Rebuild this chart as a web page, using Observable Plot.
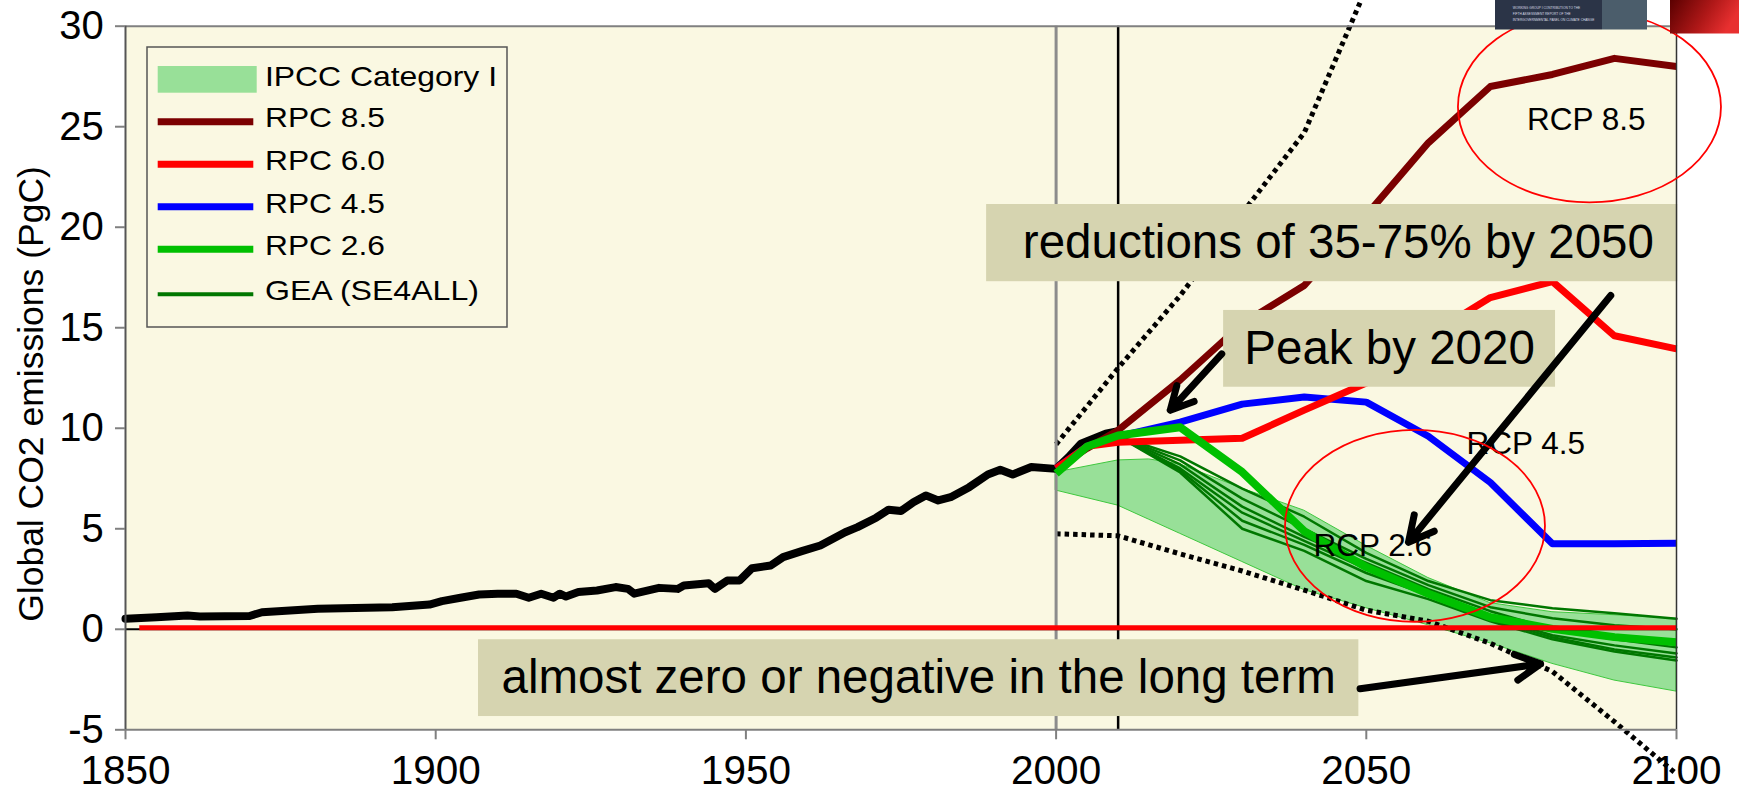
<!DOCTYPE html>
<html><head><meta charset="utf-8">
<script src="https://cdn.jsdelivr.net/npm/d3@7"></script>
<script src="https://cdn.jsdelivr.net/npm/@observablehq/plot@0.6"></script>
<style>
html,body{margin:0;padding:0;background:#fff;}
#chart{position:relative;width:1739px;height:795px;overflow:hidden;}
</style></head><body><div id="chart"></div>
<script>
// ---------- data ----------
const histYears = [1850,1855,1860,1862,1870,1872,1881,1893,1899,1901,1904,1907,1910,1913,1915,1917,1919,1920,1921,1923,1926,1929,1931,1932,1936,1939,1940,1944,1945,1947,1949,1951,1954,1956,1959,1962,1966,1968,1971,1973,1975,1977,1979,1981,1983,1986,1989,1991,1993,1996,2000,2002,2004,2006,2008,2010];
const histValues = [0.52,0.6,0.69,0.64,0.66,0.85,1.02,1.1,1.23,1.4,1.57,1.73,1.77,1.77,1.57,1.77,1.57,1.77,1.63,1.85,1.93,2.1,2.01,1.77,2.06,2.01,2.18,2.29,2.01,2.43,2.43,3.04,3.17,3.59,3.89,4.17,4.83,5.08,5.55,5.95,5.88,6.32,6.66,6.41,6.57,7.07,7.7,7.93,7.7,8.07,7.98,8.56,9.23,9.48,9.73,9.86];

const rcpYears = [2000,2005,2010,2020,2030,2040,2050,2060,2070,2080,2090,2100];
const rcp85 = [8.0,9.0,9.9,12.4,15.2,17.1,20.6,24.2,27.0,27.6,28.4,28.0];
const rcp60 = [8.0,9.1,9.3,9.4,9.5,10.9,12.25,14.6,16.5,17.3,14.6,13.95];
const rcp45 = [8.0,9.1,9.6,10.3,11.2,11.55,11.3,9.6,7.3,4.25,4.25,4.28];
const rcp26 = [7.75,9.09,9.64,10.05,7.82,4.88,3.09,1.77,0.6,0.02,-0.39,-0.64];

const geaYears = [2010,2020,2030,2040,2050,2060,2070,2080,2090,2100];
const gea1 = [9.6,8.6,7.0,5.6,3.8,2.4,1.45,1.05,0.8,0.52];
const gea2 = [9.6,8.4,6.5,5.0,3.5,2.2,1.1,0.55,0.2,0.0];
const gea3 = [9.6,8.2,6.1,4.6,3.3,2.0,0.9,0.0,-0.5,-0.9];
const gea4 = [9.6,8.0,5.8,4.4,3.0,1.8,0.6,-0.3,-0.8,-1.2];
const gea5 = [9.6,7.9,5.4,4.2,2.8,1.7,0.5,-0.4,-1.0,-1.4];
const gea6 = [9.6,7.8,5.0,3.9,2.4,1.5,0.4,-0.5,-1.1,-1.55];

const bandYears = [2000,2010,2015,2020,2030,2040,2050,2060,2070,2080,2090,2100];
const bandUpper = [7.8,8.4,8.45,8.2,7.0,5.9,4.15,2.55,1.3,0.85,0.7,0.52];
const bandLower = [6.9,6.15,5.45,4.75,3.35,1.95,1.05,0.2,-0.7,-1.72,-2.55,-3.1];

const dotUpYears = [2000,2010,2020,2030,2040,2050];
const dotUpValues = [9.2,13.0,16.6,20.7,24.7,31.9];
const dotLoYears = [2000,2010,2020,2030,2040,2050,2060,2070,2080,2090,2100];
const dotLoValues = [4.75,4.65,3.75,2.9,1.95,0.95,0.4,-0.7,-2.1,-4.6,-7.2];

const xTicks = [1850,1900,1950,2000,2050,2100];
const yTicks = [-5,0,5,10,15,20,25,30];
const yTitle = "Global CO2 emissions (PgC)";

const legendLabels = ["IPCC Category I","RPC 8.5","RPC 6.0","RPC 4.5","RPC 2.6","GEA (SE4ALL)"];

const boxTexts = ["reductions of 35-75% by 2050","Peak by 2020","almost zero or negative in the long term"];
const boxX1 = [1988.8,2027.0,1906.9];
const boxX2 = [2100.2,2080.5,2048.8];
const boxY1 = [17.29,12.04,-4.34];
const boxY2 = [21.13,15.86,-0.52];
const boxTextX = [2045.5,2053.75,1977.85];

const arrowX1 = [2026.7,2089.4,2049.0];
const arrowY1 = [13.7,16.6,-2.96];
const arrowX2 = [2018.4,2056.8,2078.1];
const arrowY2 = [10.9,4.33,-1.72];

const rcpLabelTexts = ["RCP 8.5","RCP 4.5","RCP 2.6"];
const rcpLabelX = [2075.9,2066.15,2041.5];
const rcpLabelY = [24.85,8.73,3.67];

const ellipseCx = [2086.05,2057.93];
const ellipseCy = [25.97,5.12];
const ellipseRx = [21.2,20.95];
const ellipseRy = [4.76,4.77];

// ---------- build ----------
const rows = (xs, ys, extra={}) => xs.map((x,i)=>({x, y: ys[i], ...extra}));
const hist = rows(histYears, histValues);
const gea = [gea1,gea2,gea3,gea4,gea5,gea6].flatMap((s,k)=>rows(geaYears, s, {id:k}));
const band = bandYears.map((x,i)=>({x, lo: bandLower[i], hi: bandUpper[i]}));
const boxes = boxTexts.map((t,i)=>({t, tx: boxTextX[i], x1: boxX1[i], x2: boxX2[i], y1: boxY1[i], y2: boxY2[i]}));
const arrows = arrowX1.map((x,i)=>({x1:x, y1:arrowY1[i], x2:arrowX2[i], y2:arrowY2[i]}));
const rcpLabels = rcpLabelTexts.map((t,i)=>({t, x: rcpLabelX[i], y: rcpLabelY[i]}));

const FONT = "'Liberation Sans', Arial, sans-serif";
const C = {bg:"#FAF8E2", box:"#D6D4B0", band:"#98E098", bandStroke:"#3FC83F",
  r85:"#7B0000", r60:"#FF0000", r45:"#0000FF", r26:"#00C000", gea:"#007700"};
const dotted = {stroke:"black", strokeWidth:5, strokeDasharray:"4.5,4", strokeLinecap:"butt", strokeLinejoin:"miter"};

const chart = Plot.plot({
  width: 1739, height: 795,
  marginLeft: 125, marginRight: 63, marginTop: 25.7, marginBottom: 65.7,
  x: {domain: [1850, 2100]},
  y: {domain: [-5, 30]},
  style: {fontFamily: FONT, background: "transparent", overflow: "visible"},
  marks: [
    Plot.frame({fill: C.bg, stroke: "none"}),
    Plot.areaY(band, {x: "x", y1: "lo", y2: "hi", fill: C.band, stroke: C.bandStroke, strokeWidth: 1}),
    Plot.line(rows(dotUpYears, dotUpValues), {x:"x", y:"y", ...dotted}),
    Plot.line(rows(dotLoYears, dotLoValues), {x:"x", y:"y", ...dotted}),
    Plot.ruleX([2000], {stroke:"#8C8C8C", strokeWidth:3}),
    Plot.ruleX([2010], {stroke:"black", strokeWidth:2.5}),
    Plot.line(gea, {x:"x", y:"y", z:"id", stroke:C.gea, strokeWidth:2.5}),
    Plot.line(hist, {x:"x", y:"y", stroke:"black", strokeWidth:8, strokeLinejoin:"round"}),
    Plot.line(rows(rcpYears, rcp85), {x:"x", y:"y", stroke:C.r85, strokeWidth:7, strokeLinecap:"butt"}),
    Plot.line(rows(rcpYears, rcp45), {x:"x", y:"y", stroke:C.r45, strokeWidth:7, strokeLinecap:"butt"}),
    Plot.line(rows(rcpYears, rcp60), {x:"x", y:"y", stroke:C.r60, strokeWidth:7, strokeLinecap:"butt"}),
    Plot.line(rows(rcpYears, rcp26), {x:"x", y:"y", stroke:C.r26, strokeWidth:8, strokeLinecap:"butt"}),
    Plot.ruleY([0], {stroke:"black", strokeWidth:2}),
    Plot.ruleY([0.08], {x1:1852.3, x2:2100, stroke:"#FF0000", strokeWidth:5}),
    Plot.rect(boxes, {x1:"x1", x2:"x2", y1:"y1", y2:"y2", fill:C.box}),
    Plot.text(boxes, {x:"tx", y: d=>(d.y1+d.y2)/2, text:"t", fontSize:47.5, fill:"black", lineAnchor:"middle"}),
    Plot.text(rcpLabels, {x:"x", y:"y", text:"t", textAnchor:"start", lineAnchor:"bottom", fontSize:31.5, fill:"black"}),
    Plot.arrow(arrows, {x1:"x1", y1:"y1", x2:"x2", y2:"y2", stroke:"black", strokeWidth:7, headLength:6, headAngle:55}),
    Plot.ruleY([30], {stroke:"#808080", strokeWidth:2}),
    Plot.ruleY([-5], {stroke:"#808080", strokeWidth:2}),
    Plot.ruleX([1850], {stroke:"#555", strokeWidth:2}),
    Plot.ruleX([2100], {stroke:"#333", strokeWidth:1.5}),
    Plot.axisX({ticks: xTicks, tickFormat: d=>String(d), tickSize:10, tickPadding:15.5, fontSize:40.5, stroke:"#808080", strokeWidth:2, fill:"black", label:null}),
    Plot.axisY({ticks: yTicks, tickFormat: d=>String(d), tickSize:10, tickPadding:11.7, fontSize:40, stroke:"#808080", strokeWidth:2, fill:"black", label:null})
  ]
});
document.getElementById("chart").appendChild(chart);

const svg = d3.select(chart);
const sxo = chart.scale("x"), syo = chart.scale("y");
const lx = d3.scaleLinear(sxo.domain, sxo.range), ly = d3.scaleLinear(syo.domain, syo.range);
const px = v => lx(v), py = v => ly(v);

// ellipses
const eg = svg.append("g");
ellipseCx.forEach((cx,i)=>{
  eg.append("ellipse")
    .attr("cx", px(cx)).attr("cy", py(ellipseCy[i]))
    .attr("rx", Math.abs(px(cx+ellipseRx[i]) - px(cx)))
    .attr("ry", Math.abs(py(ellipseCy[i]+ellipseRy[i]) - py(ellipseCy[i])))
    .attr("fill","none").attr("stroke","#FF0000").attr("stroke-width",1.8);
});

// y title
svg.append("text").attr("transform","translate(31,394) rotate(-90)")
  .attr("text-anchor","middle").attr("dy","0.35em")
  .attr("font-family",FONT).attr("font-size",35.5).attr("fill","black").text(yTitle);

// legend
const lg = svg.append("g").attr("font-family",FONT).attr("text-anchor","start");
lg.append("rect").attr("x",147).attr("y",47).attr("width",360).attr("height",280)
  .attr("fill",C.bg).attr("stroke","#555").attr("stroke-width",1.5);
lg.append("rect").attr("x",157.7).attr("y",66).attr("width",99).attr("height",26.7).attr("fill",C.band);
const legColors = [C.r85,C.r60,C.r45,C.r26,C.gea];
const legLineY = [121.7,164.3,206.7,249.3,294.3];
const legLineW = [7,7,7,7,4];
legColors.forEach((c,i)=>{
  lg.append("line").attr("x1",157.7).attr("x2",253.3).attr("y1",legLineY[i]).attr("y2",legLineY[i])
    .attr("stroke",c).attr("stroke-width",legLineW[i]);
});
const legBase = [85.7,127.3,170,213.3,255,300];
const legLen = [232,120,120,120,120,214];
legendLabels.forEach((t,i)=>{
  lg.append("text").attr("x",265).attr("y",legBase[i]).attr("font-size",27.5).attr("text-anchor","start")
    .attr("textLength",legLen[i]).attr("lengthAdjust","spacingAndGlyphs").attr("fill","black").text(t);
});

// top-right decorations (report cover thumbnail and red graphic)
const dg = svg.append("g").attr("text-anchor","start");
dg.append("rect").attr("x",1495).attr("y",0).attr("width",107).attr("height",29.5).attr("fill","#2B3447");
dg.append("rect").attr("x",1602).attr("y",0).attr("width",45).attr("height",29.5).attr("fill","#4B5D6B");
["WORKING GROUP I CONTRIBUTION TO THE","FIFTH ASSESSMENT REPORT OF THE","INTERGOVERNMENTAL PANEL ON CLIMATE CHANGE"].forEach((t,i)=>{
  dg.append("text").attr("x",1512.7).attr("y",8.5+i*6.3).attr("font-size",3.2).attr("font-family",FONT).attr("fill","#d8dce4").text(t);
});
const defs = svg.append("defs");
const grad = defs.append("linearGradient").attr("id","redg").attr("x1","0").attr("y1","0").attr("x2","1").attr("y2","0.3");
grad.append("stop").attr("offset","0").attr("stop-color","#5A0000");
grad.append("stop").attr("offset","0.6").attr("stop-color","#B01818");
grad.append("stop").attr("offset","1").attr("stop-color","#E83030");
dg.append("rect").attr("x",1670).attr("y",0).attr("width",69).attr("height",33.5).attr("fill","url(#redg)");
</script></body></html>
